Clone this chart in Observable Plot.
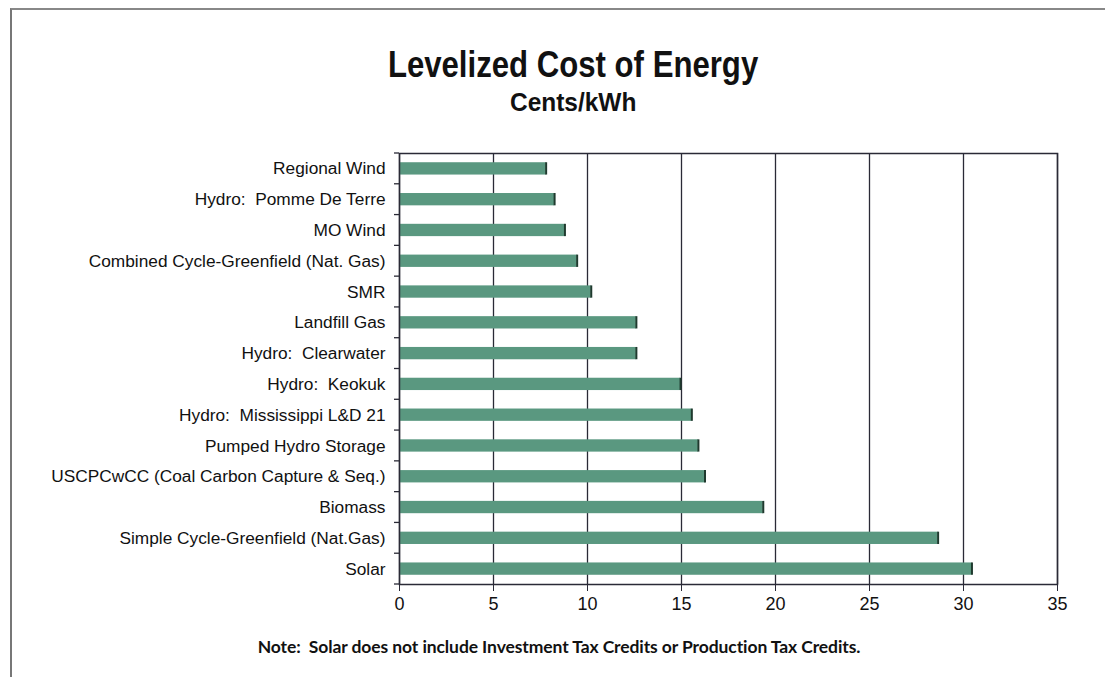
<!DOCTYPE html>
<html><head><meta charset="utf-8">
<script src="https://cdn.jsdelivr.net/npm/d3@7"></script>
<script src="https://cdn.jsdelivr.net/npm/@observablehq/plot@0.6"></script>
<style>
html,body{margin:0;padding:0;background:#fff;}
#wrap{position:relative;width:1105px;height:677px;overflow:hidden;background:#fff;}
#border{position:absolute;left:10px;top:8px;width:1200px;height:700px;border-left:2px solid #777;border-top:2px solid #888;}
.t{position:absolute;left:0;width:1146px;text-align:center;font-family:"Liberation Sans",Arial,sans-serif;font-weight:bold;color:#111;}
.t span{display:inline-block;transform-origin:50% 50%;}
#title{top:44px;font-size:36px;}
#title span{transform:scaleX(0.865);}
#sub{top:87px;font-size:26px;}
#sub span{transform:scaleX(0.94);}
#note{position:absolute;top:636px;left:0;width:1118px;text-align:center;font-family:Lato,"Open Sans",sans-serif;font-weight:bold;font-size:17.5px;letter-spacing:-0.1px;color:#111;}
#chart{position:absolute;left:0;top:0;}
</style></head>
<body><div id="wrap">
<div id="border"></div>
<div class="t" id="title"><span>Levelized Cost of Energy</span></div>
<div class="t" id="sub"><span>Cents/kWh</span></div>
<div id="chart"></div>
<div id="note">Note:&nbsp; Solar does not include Investment Tax Credits or Production Tax Credits.</div>
</div>
<script>
const categories = [
  "Regional Wind",
  "Hydro:  Pomme De Terre",
  "MO Wind",
  "Combined Cycle-Greenfield (Nat. Gas)",
  "SMR",
  "Landfill Gas",
  "Hydro:  Clearwater",
  "Hydro:  Keokuk",
  "Hydro:  Mississippi L&D 21",
  "Pumped Hydro Storage",
  "USCPCwCC (Coal Carbon Capture & Seq.)",
  "Biomass",
  "Simple Cycle-Greenfield (Nat.Gas)",
  "Solar"
];
const values = [7.8, 8.25, 8.8, 9.45, 10.2, 12.6, 12.6, 14.95, 15.55, 15.9, 16.25, 19.35, 28.65, 30.45];
const xTicks = [0, 5, 10, 15, 20, 25, 30, 35];

const data = categories.map((c, i) => ({name: c, value: values[i]}));
const font = '"Liberation Sans",Arial,sans-serif';

const plot = Plot.plot({
  width: 1105,
  height: 640,
  marginTop: 153,
  marginBottom: 56,
  marginLeft: 399,
  marginRight: 48,
  style: {fontFamily: font, fontSize: "17px", color: "#111", background: "transparent"},
  x: {domain: [0, 35], ticks: xTicks, label: null},
  y: {domain: categories, paddingInner: 0.6, paddingOuter: 0.3, round: false, label: null},
  marks: [
    Plot.ruleX(xTicks, {stroke: "#2a2a36", strokeWidth: 1.3}),
    Plot.barX(data, {x: "value", y: "name", fill: "#5a9880"}),
    Plot.tickX(data, {x: "value", y: "name", stroke: "#1f3a2e", strokeWidth: 2}),
    Plot.frame({stroke: "#2a2a36", strokeWidth: 1.5}),
    Plot.axisX({ticks: xTicks, tickSize: 7, tickPadding: 6, fontSize: 18, stroke: "#2a2a36", label: null}),
    Plot.axisY({tickSize: 0, tickPadding: 14, fontSize: 17.3, label: null})
  ]
});
document.getElementById("chart").appendChild(plot);

// category-boundary tick marks on the left axis, from the plot's band scale
const ys = plot.scale("y");
const step = ys.step;
const yStart = ys.range[0];
const svg = d3.select(plot);
const bounds = d3.range(categories.length + 1).map(i => yStart + i * step);
svg.append("g").selectAll("line").data(bounds).join("line")
  .attr("x1", 394).attr("x2", 399)
  .attr("y1", d => d).attr("y2", d => d)
  .attr("stroke", "#2a2a36").attr("stroke-width", 1.3);
</script>
</body></html>
